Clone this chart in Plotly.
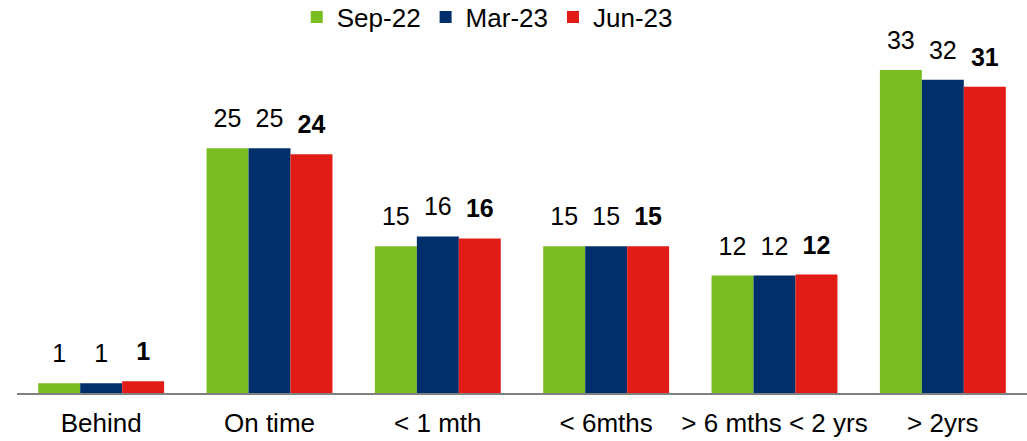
import plotly.graph_objects as go

categories = ["Behind", "On time", "< 1 mth", "< 6mths", "> 6 mths < 2 yrs", "> 2yrs"]
series_names = ["Sep-22", "Mar-23", "Jun-23"]
sep22 = [1.0, 25.0, 15.0, 15.0, 12.0, 33.0]
mar23 = [1.0, 25.0, 16.0, 15.0, 12.0, 32.0]
jun23 = [1.2, 24.4, 15.8, 15.0, 12.1, 31.3]
labels_sep22 = ["1", "25", "15", "15", "12", "33"]
labels_mar23 = ["1", "25", "16", "15", "12", "32"]
labels_jun23 = ["1", "24", "16", "15", "12", "31"]

colors = ["#7ABD23", "#002F6C", "#E31B17"]
values = [sep22, mar23, jun23]
labels = [labels_sep22, labels_mar23, labels_jun23]
weights = ["normal", "normal", "bold"]
FONT = "Liberation Sans, Arial, sans-serif"

fig = go.Figure()
for i, name in enumerate(series_names):
    fig.add_trace(go.Bar(
        x=categories, y=values[i], name=name,
        marker=dict(color=colors[i], line=dict(width=0)),
        offsetgroup=str(i),
    ))
for i, name in enumerate(series_names):
    fig.add_trace(go.Scatter(
        x=categories, y=values[i], mode="markers+text", text=labels[i],
        textposition="top center",
        marker=dict(size=22, opacity=0, color="white"),
        textfont=dict(family=FONT, size=25, color="#000000", weight=weights[i]),
        offsetgroup=str(i), showlegend=False, hoverinfo="skip",
        cliponaxis=False,
    ))

fig.update_layout(
    width=1027, height=441,
    barmode="group", scattermode="group",
    bargap=0.252, bargroupgap=0, scattergap=0.252,
    margin=dict(l=17, r=0, t=40, b=48),
    paper_bgcolor="white", plot_bgcolor="white",
    font=dict(family=FONT, size=26, color="#000000"),
    showlegend=True, hovermode=False,
    legend=dict(orientation="h", x=0.277, xanchor="left",
                yref="container", y=0.961, yanchor="middle",
                font=dict(size=26), traceorder="normal",
                bgcolor="rgba(0,0,0,0)"),
    xaxis=dict(showline=True, linecolor="#808080", linewidth=2, ticks="",
               showgrid=False, tickfont=dict(size=26), ticklabelstandoff=6),
    yaxis=dict(range=[0, 36.0], visible=False, showgrid=False, zeroline=False),
)

fig.write_html("out.html", config={"displayModeBar": False},
               post_script="document.body.style.margin='0';")
